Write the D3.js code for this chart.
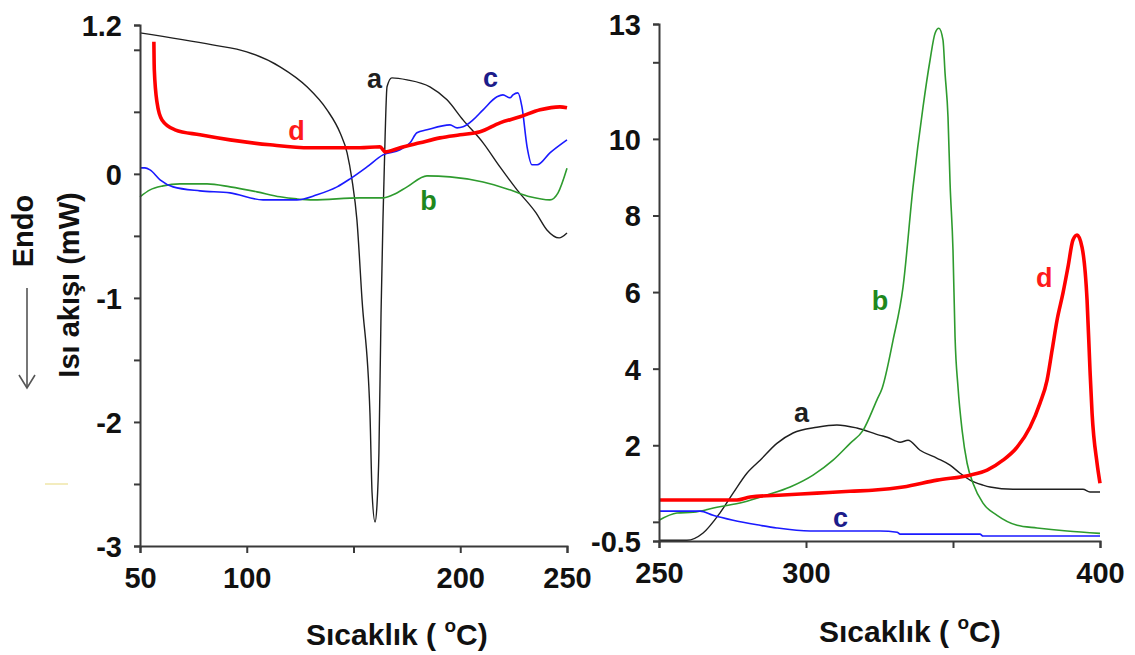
<!DOCTYPE html>
<html>
<head>
<meta charset="utf-8">
<script src="https://cdn.jsdelivr.net/npm/d3@7"></script>
<style>
  html, body { margin: 0; padding: 0; background: #fff; }
  svg { display: block; }
  text { font-family: "Liberation Sans", Arial, sans-serif; font-weight: bold; }
</style>
</head>
<body>
<svg id="chart" width="1135" height="655"></svg>
<script>
// DSC curves, 50–250 °C: [temperature, heat flow (mW)]
const lowA = [[50,1.137],[84,1.04],[100,0.984],[115.6,0.863],[128.2,0.702],[137.6,0.516],[143.7,0.331],[147,0.169],
  [149.3,-0.048],[151.6,-0.371],[154,-1.016],[157.7,-1.927],[158.7,-2.573],[160.1,-2.806],[161,-2.669],[161.9,-2.25],
  [162.9,-1.121],[163.8,-0.371],[164.8,0.3],[165.7,0.702],[168,0.774],[175.1,0.758],[185.8,0.702],[193.8,0.597],
  [201.3,0.435],[210.7,0.25],[218.6,0.056],[226.6,-0.129],[235.5,-0.315],[240.6,-0.452],[246.3,-0.516],[250,-0.476]];
const lowB = [[50,-0.185],[54.7,-0.129],[60.8,-0.097],[68.7,-0.081],[81.4,-0.081],[92.2,-0.105],[104.8,-0.145],
  [115.6,-0.185],[123.5,-0.202],[131,-0.21],[153,-0.194],[163.8,-0.194],[168.5,-0.169],[175.1,-0.105],[184.4,-0.016],
  [195.2,-0.024],[210.7,-0.065],[223.3,-0.129],[232.7,-0.185],[242,-0.21],[245.8,-0.153],[250,0.045]];
const lowC = [[50,0.048],[52.3,0.048],[54.7,0.032],[59.4,-0.048],[65.5,-0.105],[78.1,-0.137],[92.2,-0.153],
  [107.6,-0.21],[123.5,-0.21],[132.9,-0.169],[142.3,-0.105],[148.4,-0.04],[156.3,0.056],[163.8,0.153],[171.8,0.194],
  [176.5,0.25],[179.7,0.331],[184.4,0.355],[195.2,0.395],[198.5,0.371],[201.3,0.379],[206,0.435],[210.7,0.516],
  [217.2,0.621],[220,0.637],[223.3,0.613],[224.7,0.637],[227,0.653],[228.9,0.54],[231.3,0.218],[233.6,0.073],
  [236,0.073],[242,0.169],[250,0.274]];
const lowD = [[56.5,1.065],[56.7,0.839],[58,0.573],[60.3,0.435],[66.4,0.355],[78.1,0.315],[92.2,0.274],[110.9,0.234],
  [129.6,0.21],[153,0.21],[162.4,0.218],[164.8,0.177],[171.8,0.21],[181.1,0.25],[190.5,0.29],[199.9,0.315],
  [209.3,0.339],[218.6,0.411],[228,0.46],[237.4,0.516],[246.7,0.54],[250,0.532]];

// DSC curves, 250–400 °C
const highA = [[250,-0.48],[259.5,-0.48],[265,-0.29],[270.7,0.23],[275.2,0.75],[279.9,1.27],[284.4,1.61],[290.1,2.05],
  [295.6,2.32],[303.7,2.47],[310.5,2.53],[317.3,2.45],[325.2,2.26],[327.6,2.21],[332,2.08],[334.7,2.13],[338.8,1.87],
  [344.6,1.66],[349,1.48],[352.4,1.27],[355.8,1.09],[360.2,0.96],[362.6,0.91],[370.4,0.85],[394.2,0.85],[396.6,0.78],[400,0.78]];
const highB = [[250,0.04],[256.1,0.23],[261.6,0.25],[269.7,0.38],[278.6,0.51],[286.7,0.7],[294.6,0.91],[302.4,1.22],
  [309.2,1.61],[315,2.05],[319.4,2.39],[324.1,3.18],[325.9,3.49],[329.6,4.74],[333,6.13],[336.4,8.74],[339.8,10.83],
  [342.2,12.06],[343.9,12.76],[345.2,12.89],[346.6,12.58],[347.3,11.71],[348.3,10.57],[349,8.84],[350,7.09],
  [350.7,4.82],[351.7,3.52],[353.1,2.39],[354.8,1.53],[356.8,1.01],[360.2,0.49],[365,0.17],[371.8,-0.09],
  [378.6,-0.16],[388.8,-0.24],[400,-0.3]];
const highC = [[250,0.28],[264,0.28],[268.4,0.17],[275.2,0.04],[284.4,-0.09],[290.1,-0.16],[301.4,-0.24],[325.2,-0.24],
  [331,-0.27],[332,-0.32],[359.2,-0.32],[360.2,-0.37],[400,-0.37]];
const highD = [[250,0.57],[276.5,0.57],[281,0.65],[292.2,0.7],[303.7,0.75],[315,0.8],[323.5,0.83],[333,0.91],
  [344.6,1.09],[355.8,1.22],[361.6,1.35],[367,1.61],[371.8,1.95],[376.2,2.47],[379.6,3.1],[382,3.7],[383.7,4.48],
  [385.4,5.27],[387.4,5.97],[389.1,6.65],[390.8,7.36],[392.2,7.49],[393.9,7.17],[395.6,5.79],[396.6,3.96],
  [397.3,2.84],[399,1.53],[400,1.01]];

// Axis ticks and their labels (blank = unlabeled tick)
const lowTempTicks = [50, 100, 150, 200, 250];
const lowTempLabels = ["50", "100", "", "200", "250"];
const lowFlowTicks = [-3, -2.5, -2, -1.5, -1, -0.5, 0, 0.5, 1, 1.2];
const lowFlowLabels = ["-3", "", "-2", "", "-1", "", "0", "", "", "1.2"];
const highTempTicks = [250, 300, 350, 400];
const highTempLabels = ["250", "300", "", "400"];
const highFlowTicks = [-0.5, 0, 2, 4, 6, 8, 10, 12, 13];
const highFlowLabels = ["-0.5", "", "2", "4", "6", "8", "10", "", "13"];

// Curve names and where their letters sit [temperature, heat flow]
const curveNames = ["a", "b", "c", "d"];
const lowNamePos = [[159.8, 0.69], [185.1, -0.291], [214.2, 0.70], [123.3, 0.273]];
const highNamePos = [[298.5, 2.607], [325.2, 5.53], [311.7, -0.134], [381, 6.13]];

const lineColors = ["#1f1f1f", "#2e9b2e", "#1a1aff", "#ff0000"];
const nameColors = ["#1f1f1f", "#1e881e", "#1c1c8a", "#ff1a1a"];
const lineWidths = [1.4, 1.6, 1.6, 3.6];

const svg = d3.select("#chart");

const xL = d3.scaleLinear().domain([50, 250]).range([140, 567]);
const yL = d3.scaleLinear().domain([-3, 1.2]).range([546, 25]);
const xR = d3.scaleLinear().domain([250, 400]).range([659, 1100]);
const yR = d3.scaleLinear().domain([-0.5, 13]).range([541, 24]);

function drawPanel(x, y, series, namePos, tTicks, tLabels, fTicks, fLabels) {
  const g = svg.append("g");
  const line = d3.line().x(d => x(d[0])).y(d => y(d[1])).curve(d3.curveMonotoneX);
  series.forEach((s, i) => {
    g.append("path").datum(s).attr("d", line)
      .attr("fill", "none").attr("stroke", lineColors[i])
      .attr("stroke-width", lineWidths[i]).attr("stroke-linejoin", "round");
  });
  curveNames.forEach((n, i) => {
    g.append("text").attr("x", x(namePos[i][0])).attr("y", y(namePos[i][1]))
      .attr("text-anchor", "middle").attr("font-size", 27).attr("fill", nameColors[i]).text(n);
  });

  const xAxis = d3.axisBottom(x).tickValues(tTicks)
    .tickFormat((d, i) => tLabels[i]).tickSizeOuter(0).tickSize(7).tickPadding(14);
  const yAxis = d3.axisLeft(y).tickValues(fTicks)
    .tickFormat((d, i) => fLabels[i]).tickSizeOuter(0).tickSize(6).tickPadding(12);

  const gx = g.append("g").attr("transform", `translate(0,${y.range()[0]})`).call(xAxis);
  const gy = g.append("g").attr("transform", `translate(${x.range()[0]},0)`).call(yAxis);
  [gx, gy].forEach(a => {
    a.select(".domain").attr("stroke", "#3a3a3a").attr("stroke-width", 2);
    a.selectAll(".tick line").attr("stroke", "#3a3a3a").attr("stroke-width", 2);
    a.selectAll("text").attr("font-size", 29).attr("fill", "#111")
      .attr("font-family", "'Liberation Sans', Arial, sans-serif").attr("font-weight", "bold");
  });
  gx.selectAll("text").attr("dy", "0.71em");
  gy.selectAll("text").attr("dy", "0.36em");
  return g;
}

drawPanel(xL, yL, [lowA, lowB, lowC, lowD], lowNamePos, lowTempTicks, lowTempLabels, lowFlowTicks, lowFlowLabels);
drawPanel(xR, yR, [highA, highB, highC, highD], highNamePos, highTempTicks, highTempLabels, highFlowTicks, highFlowLabels);

// Temperature axis titles
function tempTitle(xPos, yPos) {
  const t = svg.append("text").attr("x", xPos).attr("y", yPos).attr("font-size", 30).attr("fill", "#111");
  t.append("tspan").text("Sıcaklık ( ");
  t.append("tspan").attr("font-size", 19).attr("dy", -13).text("o");
  t.append("tspan").attr("dy", 13).text("C)");
}
tempTitle(306, 645);
tempTitle(819, 642);

// Heat-flow title with the endothermic direction arrow
svg.append("text").attr("transform", "translate(79,285) rotate(-90)")
  .attr("text-anchor", "middle").attr("font-size", 29).attr("fill", "#111").text("Isı akışı (mW)");
svg.append("text").attr("transform", "translate(33,231) rotate(-90)")
  .attr("text-anchor", "middle").attr("font-size", 29).attr("fill", "#111").text("Endo");
svg.append("line").attr("x1", 27).attr("x2", 27).attr("y1", 288).attr("y2", 387)
  .attr("stroke", "#555").attr("stroke-width", 1.6);
svg.append("path").attr("d", "M19,375 L27,388 L35,375")
  .attr("fill", "none").attr("stroke", "#555").attr("stroke-width", 1.6);

// faint stray mark left of the lower axis
svg.append("line").attr("x1", 45).attr("x2", 68).attr("y1", 484).attr("y2", 484)
  .attr("stroke", "#efe6a8").attr("stroke-width", 1.5);
</script>
</body>
</html>
